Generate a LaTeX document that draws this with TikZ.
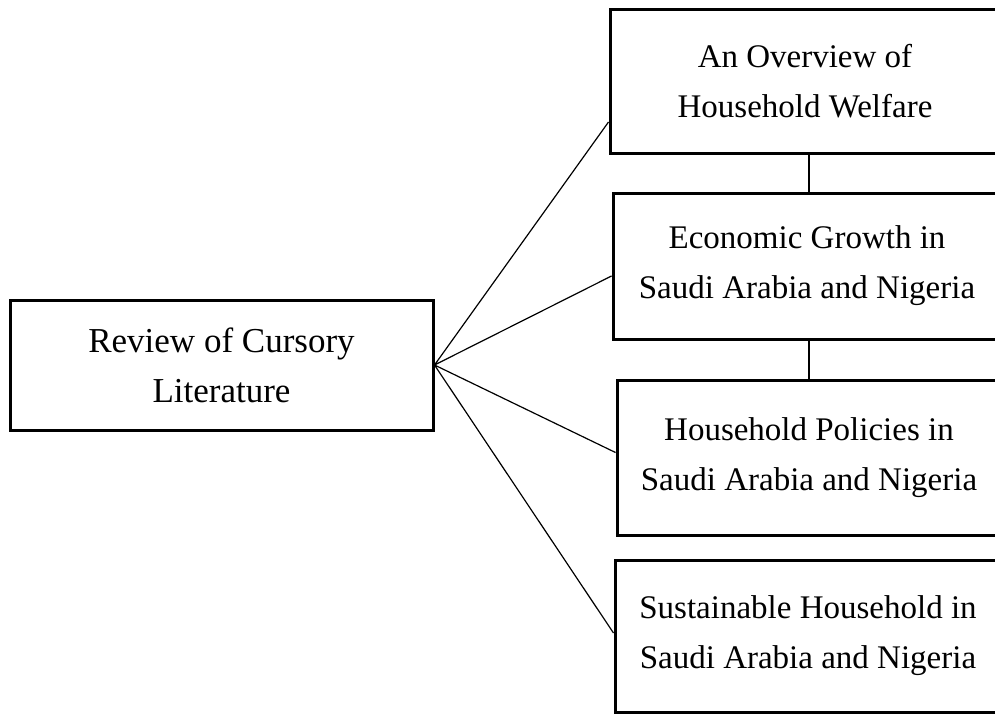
\documentclass[tikz,border=0pt]{standalone}
\usepackage{fontspec}
\setmainfont{Liberation Serif}

\begin{document}
\begin{tikzpicture}[x=1pt,y=-1pt,
  topic/.style={draw,line width=3pt,align=center,inner sep=0pt,
    font=\fontsize{33}{50}\selectfont},
  link/.style={line width=1.2pt}]
\useasboundingbox (0,0) rectangle (995,715) ;
\clip (0,0) rectangle (995,715) ;
% main box on the left
\node [topic,minimum width=423,minimum height=130,
       font=\fontsize{35}{50}\selectfont] (review) at (221.5,365)
  {Review of Cursory\\Literature} ;
% boxes on the right
\node [topic,minimum width=390,minimum height=144] (overview) at (805,81)
  {An Overview of\\Household Welfare} ;
\node [topic,minimum width=388,minimum height=146] (growth) at (807,266)
  {Economic Growth in\\Saudi Arabia and Nigeria} ;
\node [topic,minimum width=384,minimum height=155] (policies) at (809,457.5)
  {Household Policies in\\Saudi Arabia and Nigeria} ;
\node [topic,minimum width=386,minimum height=152] (sustain) at (808,636)
  {Sustainable Household in\\Saudi Arabia and Nigeria} ;
% fan of lines
\draw [link] (review.east) -- ([yshift=-41pt]overview.west)
             (review.east) -- ([yshift=-10pt]growth.west)
             (review.east) -- ([yshift=5pt]policies.west)
             (review.east) -- ([yshift=3pt]sustain.west) ;
% links down the right column
\draw [link] ([xshift=4pt]overview.south) -- ([xshift=4pt]overview.south |- growth.north)
             ([xshift=2pt]growth.south) -- ([xshift=2pt]growth.south |- policies.north) ;
\end{tikzpicture}
\end{document}
